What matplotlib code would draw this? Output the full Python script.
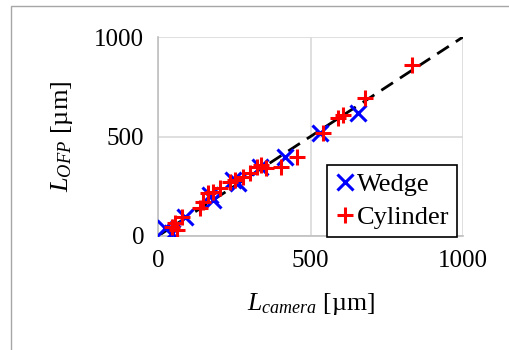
import matplotlib
matplotlib.use('Agg')
import matplotlib.pyplot as plt
from matplotlib.patches import Rectangle

# values (um)
wedge_x = [23, 45, 88, 170, 180, 246, 263, 334, 416, 531, 656]
wedge_y = [40, 14, 97, 206, 180, 281, 266, 347, 397, 517, 618]

cyl_x = [45, 56, 61, 78, 137, 148, 164, 180, 203, 236, 252, 279, 302, 323,
         339, 355, 404, 455, 542, 591, 608, 679, 832]
cyl_y = [47, 65, 30, 97, 141, 172, 216, 221, 241, 273, 281, 298, 316, 348,
         357, 340, 348, 398, 516, 591, 608, 692, 859]

fit_x = [0, 1000]
fit_y = [0, 1000]

ticks = [0, 500, 1000]

plt.rcParams['font.family'] = ['Liberation Serif', 'DejaVu Serif']
plt.rcParams['mathtext.fontset'] = 'custom'
plt.rcParams['mathtext.rm'] = 'Liberation Serif'
plt.rcParams['mathtext.it'] = 'Liberation Serif:italic'

fig = plt.figure(figsize=(5.1, 3.5), dpi=100)
fig.patches.append(Rectangle((11 / 510, -0.1), 1.2, (350 - 6) / 350 + 0.1,
                             transform=fig.transFigure, fill=False,
                             edgecolor='#a6a6a6', linewidth=1))
ax = fig.add_axes([158 / 510, 1 - 236 / 350, 305 / 510, 199 / 350])

ax.grid(True, color='#d9d9d9', linewidth=1.2)
ax.set_axisbelow(True)
for s in ['top', 'right']:
    ax.spines[s].set_visible(False)
for s in ['left', 'bottom']:
    ax.spines[s].set_color('#bfbfbf')
    ax.spines[s].set_linewidth(1.2)

ax.plot(fit_x, fit_y, color='black', linewidth=2, dashes=(5, 3), zorder=2)
ax.plot(wedge_x, wedge_y, linestyle='none', marker='x', color='#0000ff',
        markersize=11, markeredgewidth=2.2, label='Wedge', zorder=3)
ax.plot(cyl_x, cyl_y, linestyle='none', marker='+', color='#ff0000',
        markersize=12, markeredgewidth=2.2, label='Cylinder', zorder=4)

ax.set_xlim(0, 1000)
ax.set_ylim(0, 1000)
ax.set_xticks(ticks)
ax.set_yticks(ticks)
ax.tick_params(length=0, labelsize=18, pad=10)

ax.set_xlabel('$L_{camera}$ [µm]', fontsize=18.5, labelpad=14)
ax.set_ylabel('$L_{OFP}$ [µm]', fontsize=19, labelpad=14)

leg = ax.legend(loc='lower right', bbox_to_anchor=(0.98, -0.005),
                fontsize=19, frameon=True, fancybox=False,
                framealpha=1, edgecolor='black', handlelength=0.7,
                handletextpad=0.1, borderpad=0.3, labelspacing=0.35,
                borderaxespad=0.0)
leg.get_frame().set_linewidth(1.2)

fig.savefig('out.png', dpi=100)
